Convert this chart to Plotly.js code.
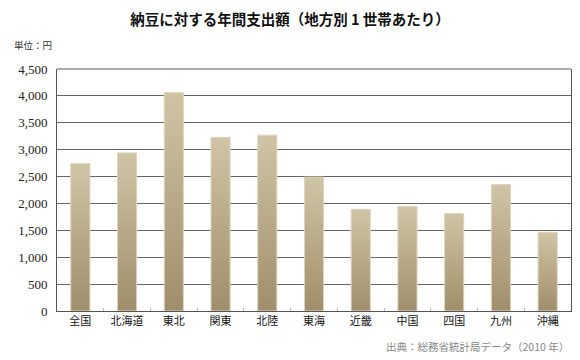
<!DOCTYPE html>
<html><head><meta charset="utf-8">
<script src="https://cdn.plot.ly/plotly-3.0.1.min.js"></script>
<style>html,body{margin:0;padding:0;background:#fff;}#chart{width:580px;height:360px;}</style>
</head><body><div id="chart"></div>
<script>
var regions = ['全国','北海道','東北','関東','北陸','東海','近畿','中国','四国','九州','沖縄'];
var spending = [2740, 2940, 4060, 3230, 3270, 2490, 1890, 1945, 1815, 2350, 1465];
var yTicks = [0,500,1000,1500,2000,2500,3000,3500,4000,4500];
var yTickText = ['0','500','1,000','1,500','2,000','2,500','3,000','3,500','4,000','4,500'];

var trace = {
  type: 'bar', x: regions, y: spending,
  marker: {color: '#b9ab88', line: {color: '#ddd5c0', width: 1}},
  hoverinfo: 'none'
};
var layout = {
  width: 580, height: 360,
  margin: {l: 57, r: 9, t: 69, b: 49},
  paper_bgcolor: '#fff', plot_bgcolor: '#fff',
  bargap: 0.59,
  showlegend: false,
  title: {text: '<b>納豆に対する年間支出額（地方別&nbsp;1&nbsp;世帯あたり）</b>', x: 0.5, xanchor: 'center', y: 0.945, yanchor: 'middle',
          font: {family: '"Noto Sans CJK JP", sans-serif', size: 14.5, color: '#111', weight: 900}},
  xaxis: {
    type: 'category', tickson: 'boundaries', ticks: 'inside', ticklen: 3, tickcolor: '#bbb',
    showline: true, linecolor: '#555', linewidth: 1, mirror: false,
    showgrid: false, zeroline: false,
    tickfont: {family: '"Noto Sans CJK JP", sans-serif', size: 11, color: '#111'}
  },
  yaxis: {
    range: [0, 4500], tickvals: yTicks, ticktext: yTickText,
    showgrid: true, gridcolor: '#666', gridwidth: 1,
    showline: true, linecolor: '#555', linewidth: 1, mirror: true,
    zeroline: false, ticks: '', ticklabelstandoff: 6,
    tickfont: {family: '"Liberation Serif", "DejaVu Serif", serif', size: 13, color: '#222'}
  },
  annotations: [
    {text: '単位：円', xref: 'paper', yref: 'paper', x: -0.087, y: 1.098, xanchor: 'left', yanchor: 'middle', showarrow: false,
     font: {family: '"Noto Sans CJK JP", sans-serif', size: 9.5, color: '#333'}},
    {text: '出典：総務省統計局データ（2010 年）', xref: 'paper', yref: 'paper', x: 1.0, y: -0.148, xanchor: 'right', yanchor: 'middle', showarrow: false,
     font: {family: '"Noto Sans CJK JP", sans-serif', size: 10.5, color: '#888'}}
  ],
  shapes: [
    {type: 'line', xref: 'paper', yref: 'paper', x0: 0, x1: 1, y0: 1, y1: 1, line: {color: '#555', width: 1}}
  ]
};
Plotly.newPlot('chart', [trace], layout, {displayModeBar: false, staticPlot: true}).then(function(gd){
  var svg = gd.querySelector('svg.main-svg');
  var ns = 'http://www.w3.org/2000/svg';
  var defs = svg.querySelector('defs') || svg.insertBefore(document.createElementNS(ns,'defs'), svg.firstChild);
  var g = document.createElementNS(ns, 'linearGradient');
  g.setAttribute('id', 'barGrad'); g.setAttribute('x1','0'); g.setAttribute('y1','0'); g.setAttribute('x2','0'); g.setAttribute('y2','1');
  [['0%','#cfc5a5'],['100%','#a08e6b']].forEach(function(s){
    var st = document.createElementNS(ns,'stop'); st.setAttribute('offset', s[0]); st.setAttribute('stop-color', s[1]); g.appendChild(st);
  });
  defs.appendChild(g);
  gd.querySelectorAll('.bars .point path').forEach(function(p){ p.style.fill = 'url(#barGrad)'; p.style.fillOpacity = 1; });
});
</script></body></html>
